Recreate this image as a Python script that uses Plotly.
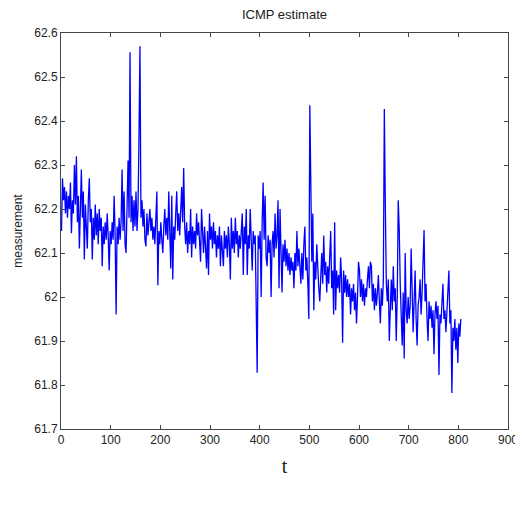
import numpy as np
import plotly.graph_objects as go

# measurement values, read every 2nd sample (t = 1, 3, 5, ...)
seg1 = [62.15, 62.27, 62.22, 62.25, 62.19, 62.24, 62.18, 62.23, 62.20, 62.26,
        62.145, 62.22, 62.19, 62.30, 62.21, 62.32, 62.17, 62.23, 62.11, 62.20,
        62.29, 62.18, 62.24, 62.085, 62.21, 62.16, 62.11, 62.22, 62.27, 62.17,
        62.20, 62.085, 62.18, 62.13, 62.21, 62.14, 62.19, 62.12, 62.20, 62.15,
        62.18, 62.07, 62.16, 62.12, 62.17, 62.13, 62.19, 62.14, 62.06, 62.15]
seg2 = [62.12, 62.17, 62.13, 62.23, 62.14, 61.96, 62.16, 62.12, 62.18, 62.13,
        62.17, 62.29, 62.15, 62.24, 62.12, 62.10, 62.21, 62.31, 62.18, 62.556,
        62.17, 62.23, 62.15, 62.22, 62.16, 62.24, 62.15, 62.20, 62.36, 62.57,
        62.18, 62.22, 62.16, 62.20, 62.13, 62.115, 62.19, 62.14, 62.17, 62.20,
        62.15, 62.18, 62.13, 62.16, 62.12, 62.17, 62.24, 62.027, 62.15, 62.12]
seg3 = [62.17, 62.13, 62.10, 62.16, 62.20, 62.14, 62.18, 62.13, 62.24, 62.15,
        62.065, 62.23, 62.04, 62.16, 62.13, 62.19, 62.24, 62.15, 62.19, 62.14,
        62.20, 62.25, 62.17, 62.293, 62.16, 62.12, 62.17, 62.10, 62.15, 62.12,
        62.20, 62.09, 62.16, 62.12, 62.15, 62.11, 62.19, 62.14, 62.17, 62.12,
        62.08, 62.20, 62.14, 62.10, 62.16, 62.12, 62.065, 62.15, 62.05, 62.19]
seg4 = [62.13, 62.16, 62.11, 62.17, 62.12, 62.15, 62.09, 62.14, 62.11, 62.16,
        62.07, 62.14, 62.10, 62.07, 62.15, 62.11, 62.14, 62.09, 62.16, 62.12,
        62.04, 62.18, 62.11, 62.15, 62.10, 62.18, 62.12, 62.15, 62.09, 62.14,
        62.11, 62.17, 62.19, 62.05, 62.16, 62.12, 62.20, 62.05, 62.14, 62.11,
        62.20, 62.13, 62.06, 62.15, 62.12, 62.14, 61.964, 61.828, 62.14, 62.11]
seg5 = [62.15, 62.00, 62.17, 62.26, 62.13, 62.23, 62.09, 62.07, 62.14, 62.10,
        62.13, 62.00, 62.12, 62.15, 62.09, 62.19, 62.11, 62.14, 62.22, 62.02,
        62.20, 62.08, 62.01, 62.12, 62.08, 62.13, 62.07, 62.11, 62.06, 62.10,
        62.05, 62.09, 62.06, 62.08, 62.02, 62.10, 62.06, 62.15, 62.07, 62.11,
        62.08, 62.03, 62.10, 62.04, 62.12, 62.16, 62.06, 62.09, 62.03, 61.95]
seg6 = [62.436, 62.24, 62.08, 62.19, 61.97, 62.08, 62.04, 62.12, 62.05, 62.02,
        61.99, 62.06, 62.10, 62.03, 62.14, 62.05, 62.08, 62.01, 62.07, 62.03,
        62.09, 62.15, 62.02, 62.06, 61.96, 62.17, 61.97, 62.06, 62.02, 62.05,
        62.01, 62.09, 62.04, 61.896, 62.06, 62.01, 62.05, 62.00, 62.04, 62.00,
        62.03, 61.96, 62.02, 61.99, 62.03, 61.97, 62.01, 61.94, 62.00, 62.08]
seg7 = [62.06, 62.00, 62.04, 61.99, 62.03, 61.98, 62.02, 62.00, 62.04, 62.07,
        62.02, 62.08, 62.07, 61.99, 62.03, 61.97, 62.02, 61.98, 62.01, 62.05,
        61.99, 61.94, 62.02, 61.98, 62.04, 62.427, 62.21, 62.03, 61.99, 62.04,
        61.90, 62.00, 62.04, 61.97, 62.07, 61.99, 62.02, 61.90, 62.00, 62.22,
        62.155, 62.03, 61.96, 61.89, 62.01, 61.86, 62.10, 61.97, 61.94, 62.00]
seg8 = [61.95, 61.98, 62.11, 61.96, 61.92, 61.99, 62.06, 61.95, 61.89, 61.98,
        62.00, 62.04, 61.96, 62.01, 62.07, 62.152, 61.99, 62.03, 61.95, 61.90,
        61.99, 61.95, 61.98, 61.93, 61.97, 61.87, 61.96, 61.99, 61.95, 61.98,
        61.823, 61.96, 61.94, 61.98, 62.03, 61.95, 61.97, 61.92, 61.96, 61.99,
        62.06, 61.94, 61.97, 61.782, 61.93, 61.90, 61.95, 61.88, 61.93, 61.85,
        61.94, 61.91, 61.95]

measurement = seg1 + seg2 + seg3 + seg4 + seg5 + seg6 + seg7 + seg8
t = np.arange(1, 2 * len(measurement) + 1, 2)

x_ticks = [0, 100, 200, 300, 400, 500, 600, 700, 800, 900]
y_ticks = [61.7, 61.8, 61.9, 62.0, 62.1, 62.2, 62.3, 62.4, 62.5, 62.6]
y_labels = ["61.7", "61.8", "61.9", "62", "62.1", "62.2", "62.3", "62.4", "62.5", "62.6"]

fig = go.Figure()
fig.add_trace(go.Scatter(x=t, y=measurement, mode="lines",
                         line=dict(color="#0000ff", width=1.3), showlegend=False))

axis_style = dict(showline=True, mirror="ticks", linecolor="#444", linewidth=1,
                  ticks="inside", ticklen=4, tickcolor="#444", showgrid=False,
                  zeroline=False, automargin=False,
                  tickfont=dict(family="Liberation Sans", size=12, color="#222"))

# the page body adds an 8px offset, so the figure is sized to fit inside it
fig.update_layout(
    width=515, height=491,
    paper_bgcolor="white", plot_bgcolor="white",
    margin=dict(l=53, r=15, t=25, b=70),
    title=dict(text="ICMP estimate", x=0.5, xref="paper", y=0.986, yref="container",
               yanchor="middle", automargin=False,
               font=dict(family="Liberation Sans", size=13, color="#222")),
    xaxis=dict(range=[0, 900], tickvals=x_ticks, ticklabeloverflow="allow", **axis_style,
               title=dict(text="t", standoff=12,
                          font=dict(family="Liberation Serif", size=20, color="#222"))),
    yaxis=dict(range=[61.7, 62.6], tickvals=y_ticks, ticktext=y_labels, **axis_style,
               title=dict(text="measurement", standoff=9,
                          font=dict(family="Liberation Sans", size=12, color="#222"))),
)

fig.write_html("out.html")
